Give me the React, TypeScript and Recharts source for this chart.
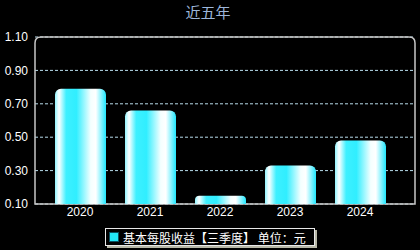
import { Bar, BarChart, CartesianGrid, XAxis, YAxis, usePlotArea } from "recharts";

const years = ["2020", "2021", "2022", "2023", "2024"];
const eps = [0.79, 0.66, 0.15, 0.33, 0.48];
const yTicks = [0.1, 0.3, 0.5, 0.7, 0.9, 1.1];

const data = years.map((year, i) => ({ year, eps: eps[i] }));

const tickFont = { fill: "#ffffff", fontSize: 12, fontFamily: "Liberation Sans, Arial, sans-serif" };

function PlotFrame() {
  const area = usePlotArea();
  if (!area) return null;
  const { x, y, width, height } = area;
  const r = 6;
  const d = `M${x},${y + height} L${x},${y + r} Q${x},${y} ${x + r},${y} L${x + width - r},${y} Q${x + width},${y} ${x + width},${y + r} L${x + width},${y + height} Z`;
  return <path d={d} fill="none" stroke="#c8c8c8" strokeWidth={1.5} />;
}

function LegendBox() {
  return (
    <div
      style={{
        position: "absolute",
        left: 105,
        top: 228,
        background: "#000",
        border: "1px solid #e8e8e8",
        boxShadow: "2px 2px 0 #b8b8a8",
        height: 16,
        width: 208,
        display: "flex",
        alignItems: "center",
        fontFamily: "Noto Sans CJK SC, sans-serif",
        fontSize: 12,
        color: "#fff",
        whiteSpace: "nowrap",
      }}
    >
      <span
        style={{
          display: "inline-block",
          width: 8,
          height: 8,
          background: "#22e6f6",
          border: "1px solid #0a5060",
          margin: "0 4px 0 3px",
        }}
      />
      基本每股收益【三季度】 单位：元
    </div>
  );
}

export default function App() {
  return (
    <div style={{ position: "fixed", left: 0, top: 0, width: 420, height: 250, background: "#000" }}>
      <div
        style={{
          position: "absolute",
          left: 0,
          top: 2,
          width: 416,
          textAlign: "center",
          color: "#9db6da",
          fontSize: 15,
          fontFamily: "Noto Sans CJK SC, sans-serif",
          lineHeight: "20px",
        }}
      >
        近五年
      </div>
      <BarChart width={420} height={250} data={data} margin={{ top: 37, right: 5, left: 0, bottom: 16 }}>
        <defs>
          <linearGradient id="barGrad" x1="0" y1="0" x2="1" y2="0">
            <stop offset="0" stopColor="#90f4ff" />
            <stop offset="0.08" stopColor="#ffffff" />
            <stop offset="0.22" stopColor="#3ef0ff" />
            <stop offset="0.42" stopColor="#30eeff" />
            <stop offset="0.7" stopColor="#f4ffff" />
            <stop offset="0.8" stopColor="#ffffff" />
            <stop offset="1" stopColor="#20e8ff" />
          </linearGradient>
        </defs>
        <CartesianGrid vertical={false} stroke="#b8dcec" strokeDasharray="3 2" />
        <XAxis
          dataKey="year"
          padding={{ left: 10, right: 20 }}
          tick={tickFont}
          tickLine={false}
          axisLine={false}
          tickSize={3}
          tickMargin={0}
          height={30}
        />
        <YAxis
          width={35}
          domain={[0.1, 1.1]}
          ticks={yTicks}
          tickFormatter={(v: number) => v.toFixed(2)}
          tick={tickFont}
          tickLine={false}
          axisLine={false}
          tickSize={0}
          tickMargin={7}
        />
        <Bar dataKey="eps" fill="url(#barGrad)" barSize={51} radius={[6, 6, 0, 0]} isAnimationActive={false} />
        <PlotFrame />
      </BarChart>
      <LegendBox />
    </div>
  );
}
